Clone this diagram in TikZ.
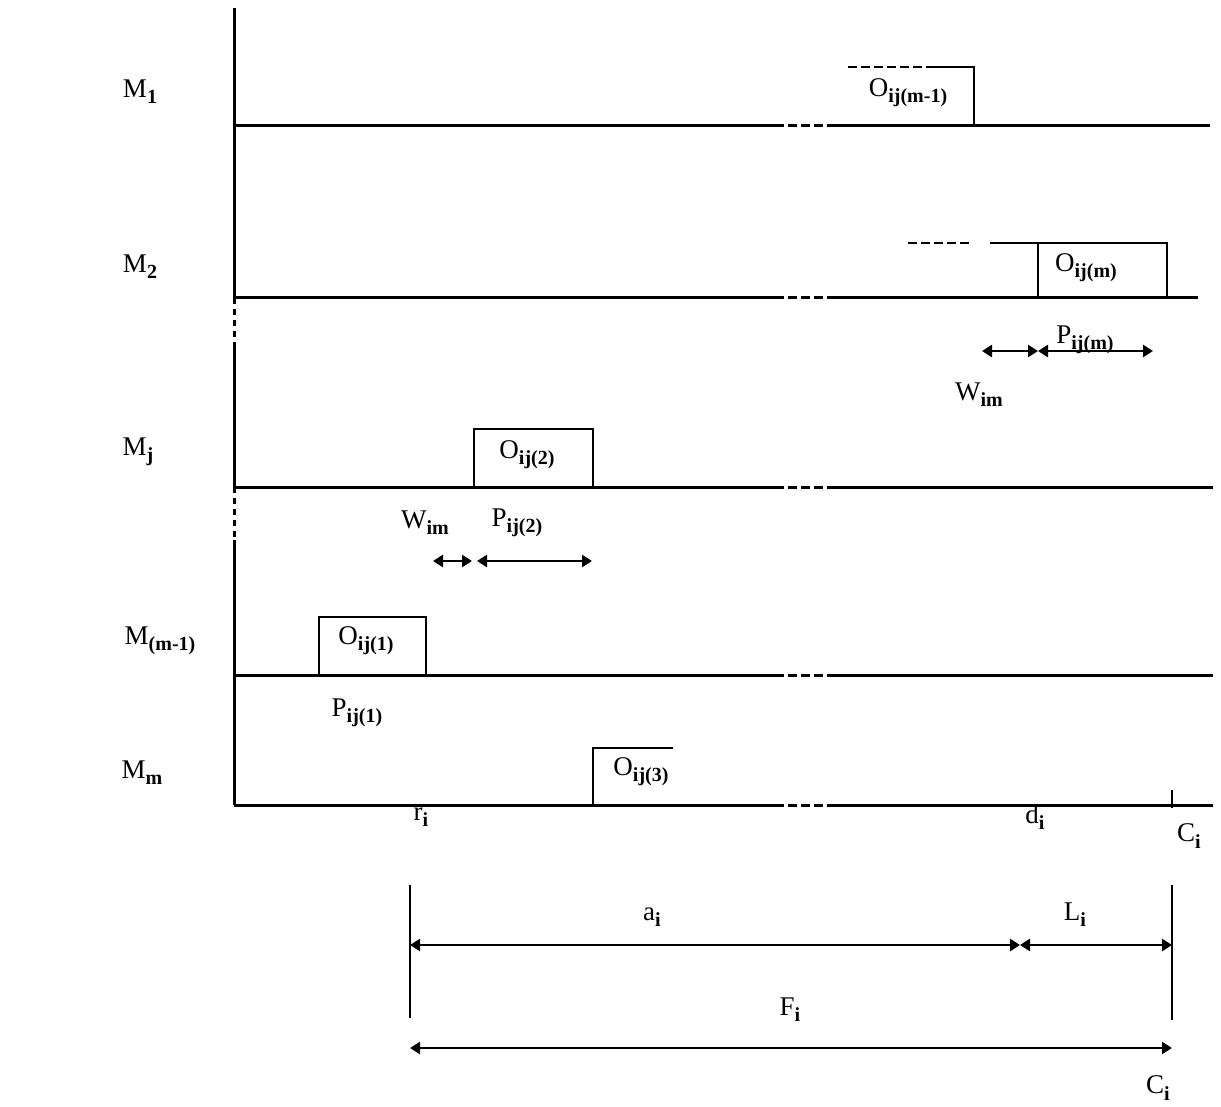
\documentclass[tikz,border=0pt]{standalone}
\usepackage{fontspec}
\setmainfont{Liberation Serif}
\usetikzlibrary{arrows.meta}
\newcommand\lsub[1]{\raisebox{-0.5ex}{\fontsize{10}{10}\selectfont\bfseries #1}}
\begin{document}
\begin{tikzpicture}[x=0.5pt,y=-0.5pt,
  lbl/.style={font=\fontsize{13.5}{15}\selectfont, inner sep=0pt},
  axisline/.style={line width=1.5pt},
  gantt/.style={line width=1.2pt},
  dsh/.style={dash pattern=on 4.5pt off 2pt},
  vdsh/.style={dash pattern=on 3pt off 2.5pt},
  dimarrow/.style={line width=1.3pt, {Triangle[length=5pt,width=6pt]}-{Triangle[length=5pt,width=6pt]}},
  guide/.style={line width=0.7pt}
]
\useasboundingbox (0,0) rectangle (1221,1107);

% vertical axis
\coordinate (ytop) at (234,8);
\coordinate (orig) at (234,805);
\draw[axisline] (ytop) -- (234,298);
\draw[axisline,vdsh] (234,298) -- (234,345);
\draw[axisline] (234,345) -- (234,487);
\draw[axisline,vdsh] (234,487) -- (234,540);
\draw[axisline] (234,540) -- (orig);

% machine lines
\foreach \y/\e in {126/1210, 298/1198, 487/1213, 675/1213, 805/1213}{
  \draw[axisline] (234,\y) -- (775,\y);
  \draw[axisline,dsh] (775,\y) -- (835,\y);
  \draw[axisline] (835,\y) -- (\e,\y);
}

% machine labels
\node[lbl] (m1) at (140,92) {M\lsub{1}};
\node[lbl] (m2) at (140,267) {M\lsub{2}};
\node[lbl] (mj) at (138,452) {M\lsub{j}};
\node[lbl] (mm1) at (160,641) {M\lsub{(m-1)}};
\node[lbl] (mm) at (142,773) {M\lsub{m}};

% O_ij(m-1)
\draw[gantt,dsh] (848,67) -- (932,67);
\draw[gantt] (932,67) -- (974,67) -- (974,126);
\node[lbl] (o1) at (908,93) {O\lsub{ij(m-1)}};

% O_ij(m)
\draw[gantt,dsh] (908,243) -- (970,243);
\draw[gantt] (990,243) -- (1167,243) -- (1167,298);
\draw[gantt] (1038,243) -- (1038,298);
\node[lbl] (om) at (1086,268) {O\lsub{ij(m)}};

% W_im / P_ij(m) arrows
\coordinate (wa) at (982,351);
\coordinate (wb) at (1038,351);
\coordinate (pb) at (1153,351);
\draw[dimarrow] (wa) -- (wb);
\draw[dimarrow] (wb) -- (pb);
\node[lbl] (pm) at (1085,340) {P\lsub{ij(m)}};
\node[lbl] (wm) at (979,395) {W\lsub{im}};

% O_ij(2)
\draw[gantt] (474,487) rectangle (593,429);
\node[lbl] (o2) at (527,455) {O\lsub{ij(2)}};

\node[lbl] (w2) at (425,523) {W\lsub{im}};
\node[lbl] (p2) at (517,523) {P\lsub{ij(2)}};
\coordinate (w2a) at (433,561);
\coordinate (w2b) at (472,561);
\coordinate (p2a) at (477,561);
\coordinate (p2b) at (592,561);
\draw[dimarrow] (w2a) -- (w2b);
\draw[dimarrow] (p2a) -- (p2b);

% O_ij(1)
\draw[gantt] (319,675) rectangle (426,617);
\node[lbl] (o1b) at (366,641) {O\lsub{ij(1)}};
\node[lbl] (p1) at (357,713) {P\lsub{ij(1)}};

% O_ij(3)
\draw[gantt] (593,805) -- (593,748) -- (673,748);
\node[lbl] (o3) at (641,772) {O\lsub{ij(3)}};

% axis labels
\node[lbl] (ri) at (421,817) {r\lsub{i}};
\node[lbl] (di) at (1035,817) {d\lsub{i}};
\node[lbl] (ci) at (1189,836) {C\lsub{i}};
\draw[guide] (1172,790) -- (1172,808);

% bottom dimensions
\coordinate (ga) at (410,885);
\coordinate (gb) at (410,1018);
\coordinate (gc) at (1172,885);
\coordinate (gd) at (1172,1020);
\draw[guide] (ga) -- (gb);
\draw[guide] (gc) -- (gd);

\coordinate (aa) at (410,945);
\coordinate (ab) at (1020,945);
\coordinate (ac) at (1172,945);
\draw[dimarrow] (aa) -- (ab);
\draw[dimarrow] (ab) -- (ac);
\node[lbl] (ai) at (652,917) {a\lsub{i}};
\node[lbl] (li) at (1075,915) {L\lsub{i}};

\coordinate (fa) at (410,1048);
\coordinate (fb) at (1172,1048);
\draw[dimarrow] (fa) -- (fb);
\node[lbl] (fi) at (790,1010) {F\lsub{i}};
\node[lbl] (ci2) at (1158,1088) {C\lsub{i}};
\end{tikzpicture}
\end{document}
